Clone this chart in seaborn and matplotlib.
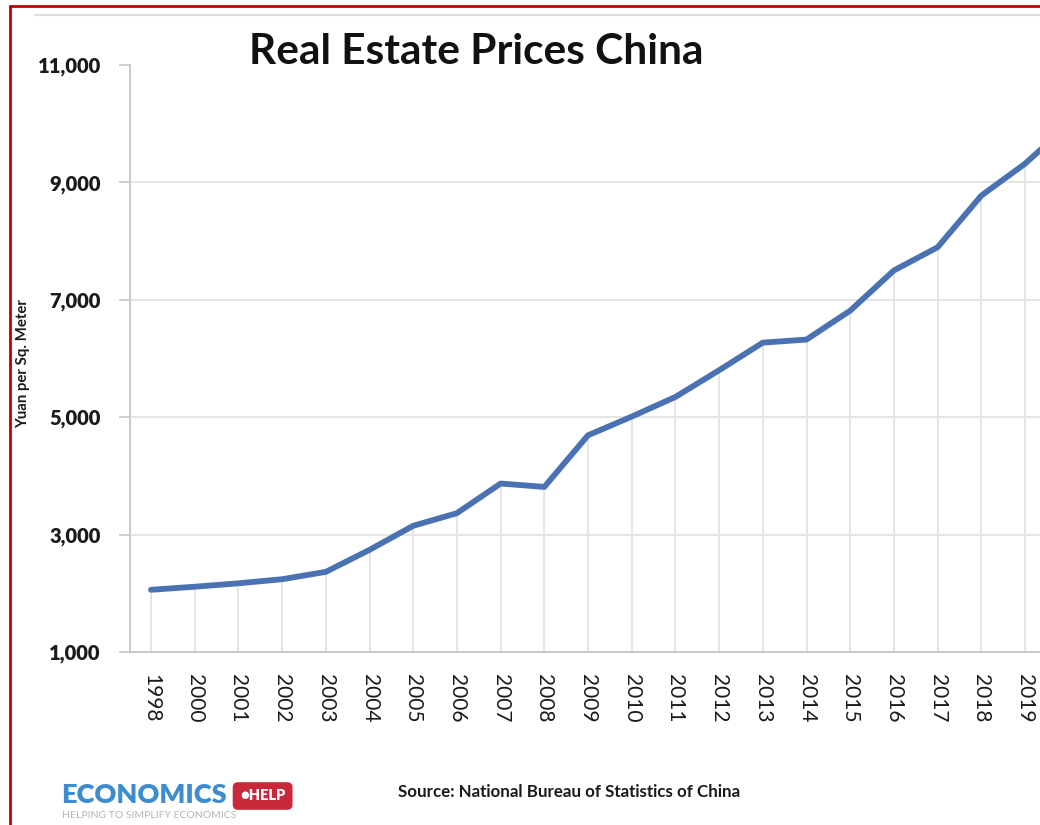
import matplotlib
matplotlib.use("Agg")
import matplotlib.pyplot as plt
from matplotlib.lines import Line2D
import seaborn as sns
import pandas as pd

# Average sale price of commercial housing, yuan per square metre
years = ["1998", "2000", "2001", "2002", "2003", "2004", "2005", "2006",
         "2007", "2008", "2009", "2010", "2011", "2012", "2013", "2014",
         "2015", "2016", "2017", "2018", "2019", "2020"]
prices = [2060, 2112, 2170, 2240, 2365, 2740, 3150, 3365,
          3870, 3812, 4692, 5010, 5345, 5800, 6270, 6323,
          6815, 7500, 7895, 8775, 9318, 9990]
y_ticks = [1000, 3000, 5000, 7000, 9000, 11000]

df = pd.DataFrame({"year": years, "price": prices})

sns.set_theme(style="white")
plt.rcParams["font.family"] = ["Lato", "DejaVu Sans"]

fig = plt.figure(figsize=(10.4, 8.25), dpi=100)
fig.patch.set_facecolor("white")
ax_left, ax_right = 130, 1100          # axes extent in pixels; the plot runs past the page
first_x, step = 151, 43.7              # pixel position of the first category and spacing
ax = fig.add_axes([ax_left / 1040, 1 - 652 / 825, (ax_right - ax_left) / 1040,
                   (652 - 65) / 825])

grid_c = "#e3e3e3"
for v in y_ticks[1:-1]:
    ax.axhline(v, color=grid_c, lw=1.3, zorder=0)

# drop lines from the baseline up to each point
ax.vlines(range(len(years)), y_ticks[0], prices, color=grid_c, lw=1.3, zorder=1)

sns.lineplot(data=df, x="year", y="price", sort=False, ax=ax,
             color="#4a72b2", lw=4.2, zorder=3, solid_joinstyle="round")

ax.set_xlim((ax_left - first_x) / step, (ax_right - first_x) / step)
ax.set_ylim(y_ticks[0], y_ticks[-1])
ax.set_yticks(y_ticks)
ax.set_yticklabels([f"{v:,}" for v in y_ticks], fontsize=14.5, fontweight="heavy",
                   color="#1a1a1a")
# the last year runs off the page, so only the labels that fit are set
shown = years[:-1]
ax.set_xticks(range(len(shown)))
ax.set_xticklabels(shown, rotation=-90, fontsize=15, color="#1a1a1a")
ax.tick_params(axis="y", length=8, width=1.2, color="#c8c8c8", pad=13, left=True)
ax.tick_params(axis="x", length=0, pad=16)

for s in ["top", "right"]:
    ax.spines[s].set_visible(False)
for s in ["left", "bottom"]:
    ax.spines[s].set_color("#c8c8c8")
    ax.spines[s].set_linewidth(1.4)

ax.set_xlabel("")
ax.set_ylabel("")
fig.text(23 / 1040, 1 - 364 / 825, "Yuan per Sq. Meter", rotation=90, ha="center",
         va="center", fontsize=10.8, fontweight="bold", color="#1a1a1a")

fig.text(476 / 1040, 1 - 52 / 825, "Real Estate Prices China", ha="center", va="center",
         fontsize=30.5, fontweight="bold", color="#111111")

fig.text(398 / 1040, 1 - 792 / 825, "Source: National Bureau of Statistics of China",
         ha="left", va="center", fontsize=12.2, fontweight="bold", color="#1a1a1a")

# publisher mark
fig.text(61 / 1040, 1 - 795 / 825, "ECONOMICS", ha="left", va="center",
         fontsize=19.5, fontweight="heavy", color="#3c8ccf")
fig.text(240 / 1040, 1 - 796 / 825, "\u25CFHELP", ha="left", va="center",
         fontsize=10.5, fontweight="heavy", color="white",
         bbox=dict(boxstyle="round,pad=0.5,rounding_size=0.35", fc="#c8283a", ec="none"))
fig.text(62 / 1040, 1 - 816 / 825, "HELPING TO SIMPLIFY ECONOMICS", ha="left",
         va="center", fontsize=7.5, color="#b5b5b5")

# page frame
fig.add_artist(Line2D([35 / 1040, 1], [1 - 15 / 825] * 2, color="#dddddd", lw=1.5,
                      transform=fig.transFigure))
fig.add_artist(Line2D([9.5 / 1040, 1], [1 - 6 / 825] * 2, color="#c00000", lw=2,
                      transform=fig.transFigure))
fig.add_artist(Line2D([9.5 / 1040] * 2, [0, 1 - 6 / 825], color="#c00000", lw=2,
                      transform=fig.transFigure))

fig.savefig("out.png", dpi=100, facecolor="white")
